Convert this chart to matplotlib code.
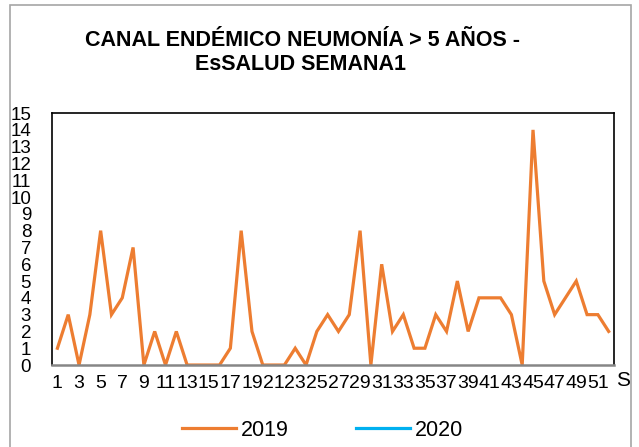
import numpy as np
import matplotlib
matplotlib.use('Agg')
import matplotlib.pyplot as plt
from matplotlib.patches import Rectangle

# Datos: casos por semana epidemiológica
semanas = list(range(1, 53))
casos_2019 = [1, 3, 0, 3, 8, 3, 4, 7, 0, 2,
              0, 2, 0, 0, 0, 0, 1, 8, 2, 0,
              0, 0, 1, 0, 2, 3, 2, 3, 8, 0,
              6, 2, 3, 1, 1, 3, 2, 5, 2, 4,
              4, 4, 3, 0, 14, 5, 3, 4, 5, 3,
              3, 2]
casos_2020 = [np.nan] * 52  # sin datos visibles
etiquetas_x = [str(s) for s in semanas[::2]]
etiquetas_y = list(range(0, 16))

plt.rcParams['font.family'] = ['Liberation Sans', 'DejaVu Sans']

fig = plt.figure(figsize=(6.39, 4.47), dpi=100)
ax = fig.add_axes([0.0814, 0.1834, 0.8796, 0.5636])

l1, = ax.plot(semanas, casos_2019, color='#ED7D31', lw=2.3, solid_joinstyle='miter')
l2, = ax.plot(semanas, casos_2020, color='#00B0F0', lw=2.3)

ax.set_xlim(0.5, 52.5)
ax.set_ylim(0, 15)
ax.set_xticks(semanas[::2])
ax.set_xticklabels(etiquetas_x, fontsize=14)
ax.set_yticks(etiquetas_y)
ax.set_yticklabels([str(v) for v in etiquetas_y], fontsize=13.5)
ax.tick_params(length=0)
ax.tick_params(axis='y', pad=15)
ax.tick_params(axis='x', pad=7)

for side in ['left', 'top', 'right']:
    ax.spines[side].set_color('black')
    ax.spines[side].set_linewidth(1.2)
ax.spines['bottom'].set_color('#868686')
ax.spines['bottom'].set_linewidth(1.8)

# titulo del eje (cortado)
fig.text(623 / 639, 1 - 381 / 447, 'S', fontsize=15, ha='center', va='center')

fig.text(0.474, 1 - 40 / 447, 'CANAL ENDÉMICO NEUMONÍA > 5 AÑOS -',
         fontsize=15.5, fontweight='bold', ha='center', va='center')
fig.text(0.470, 1 - 64 / 447, 'EsSALUD SEMANA1',
         fontsize=15.5, fontweight='bold', ha='center', va='center')

fig.legend([l1, l2], ['2019', '2020'], loc='center', bbox_to_anchor=(0.505, 1 - 430 / 447),
           ncol=2, frameon=False, fontsize=15.5, handlelength=2.5, columnspacing=3.1,
           handletextpad=0.25)

# marco exterior del gráfico
fig.patches.append(Rectangle((10 / 639, -0.05), 621 / 639, 1.05 - 5 / 447,
                             transform=fig.transFigure, fill=False,
                             edgecolor='#a6a6a6', lw=1.2))

fig.savefig('out.png', dpi=100)
